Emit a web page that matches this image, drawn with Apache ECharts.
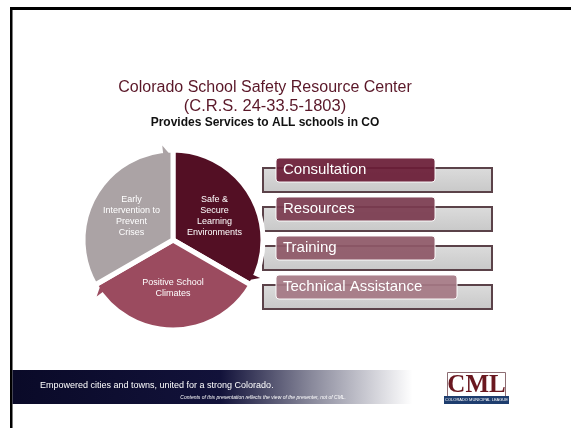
<!DOCTYPE html>
<html><head><meta charset="utf-8">
<script src="https://cdn.jsdelivr.net/npm/echarts@6/dist/echarts.min.js"></script>
<style>html,body{margin:0;padding:0;background:#fff}#c{width:571px;height:428px}</style>
</head><body><div id="c"></div>
<script>
// ---- data ----
const titleLines = ['Colorado School Safety Resource Center', '(C.R.S. 24-33.5-1803)', 'Provides Services to ALL schools in CO'];
const cycleNames = ['Safe &\nSecure\nLearning\nEnvironments', 'Positive School\nClimates', 'Early\nIntervention to\nPrevent\nCrises'];
const cycleValues = [1, 1, 1];
const cycleColors = ['#530f24', '#9b4b5f', '#aba3a5'];
const serviceItems = ['Consultation', 'Resources', 'Training', 'Technical Assistance'];
const serviceColors = ['#6a1d37', '#7b3b50', '#8e5867', '#a57884'];
const footerLines = ['Empowered cities and towns, united for a strong Colorado.', 'Contents of this presentation reflects the view of the presenter, not of CML.'];
const logoText = ['CML', 'COLORADO MUNICIPAL LEAGUE'];

// ---- layout ----
const chart = echarts.init(document.getElementById('c'), null, {renderer: 'canvas'});
const FONT = '"Liberation Sans", Arial, sans-serif';
const cx = 173, cy = 240, R = 90;

const graphics = [];
// slide border
graphics.push({type: 'rect', shape: {x: 10, y: 7, width: 561, height: 3}, style: {fill: '#000'}});
graphics.push({type: 'rect', shape: {x: 10, y: 7, width: 2.5, height: 421}, style: {fill: '#000'}});

// titles
graphics.push({type: 'text', x: 265, y: 88, style: {text: titleLines[0], font: '16px ' + FONT, fill: '#5a1728', align: 'center', verticalAlign: 'middle'}});
graphics.push({type: 'text', x: 265, y: 106, style: {text: titleLines[1], font: '16.5px ' + FONT, fill: '#5a1728', align: 'center', verticalAlign: 'middle'}});
graphics.push({type: 'text', x: 265, y: 123, style: {text: titleLines[2], font: 'bold 12px ' + FONT, fill: '#111', align: 'center', verticalAlign: 'middle'}});

// arrowheads at the clockwise end of each cycle segment
cycleValues.forEach((v, i) => {
  const total = cycleValues.reduce((a, b) => a + b, 0);
  const endDeg = 90 - 360 * cycleValues.slice(0, i + 1).reduce((a, b) => a + b, 0) / total; // math angle
  const pt = (deg, r) => [cx + r * Math.cos(deg * Math.PI / 180), cy - r * Math.sin(deg * Math.PI / 180)];
  graphics.push({type: 'polygon', z: 10, shape: {points: [pt(endDeg + 6.5, R + 5), pt(endDeg + 2.8, R - 3), pt(endDeg + 6.5, R - 11)]}, style: {fill: cycleColors[i]}});
});

// services list
serviceItems.forEach((name, i) => {
  const top = 158 + i * 39;
  const w = i === 3 ? 181 : 159;
  graphics.push({type: 'rect', shape: {x: 263, y: top + 10, width: 229, height: 24}, style: {fill: {type: 'linear', x: 0, y: 0, x2: 0, y2: 1, colorStops: [{offset: 0, color: '#dcdcdc'}, {offset: 1, color: '#c8c8c8'}]}, stroke: '#5b4249', lineWidth: 2}});
  graphics.push({type: 'rect', shape: {x: 276, y: top, width: w, height: 24, r: 3}, style: {fill: serviceColors[i], stroke: '#fff', lineWidth: 1, opacity: 0.93}});
  graphics.push({type: 'text', x: 283, y: top + 12, style: {text: name, font: '15px ' + FONT, fill: '#fff', verticalAlign: 'middle'}});
});

// footer band
graphics.push({type: 'rect', shape: {x: 12.5, y: 370, width: 400, height: 34}, style: {fill: {type: 'linear', x: 0, y: 0, x2: 1, y2: 0, colorStops: [{offset: 0, color: '#0a0a28'}, {offset: 0.52, color: '#12123a'}, {offset: 0.75, color: '#8a8a9c'}, {offset: 1, color: '#ffffff'}]}}});
graphics.push({type: 'text', x: 40, y: 386, style: {text: footerLines[0], font: '9px ' + FONT, fill: '#fff', verticalAlign: 'middle'}});
graphics.push({type: 'text', x: 346, y: 398, style: {text: footerLines[1], font: 'italic 5px ' + FONT, fill: '#fff', align: 'right', verticalAlign: 'middle'}});

// logo
graphics.push({type: 'rect', shape: {x: 447.5, y: 372.5, width: 58, height: 31}, style: {fill: '#fff', stroke: '#8d6d73', lineWidth: 1}});
graphics.push({type: 'text', x: 476.5, y: 386, style: {text: logoText[0], font: 'bold 25px "Liberation Serif", "Times New Roman", serif', fill: '#6a1820', align: 'center', verticalAlign: 'middle'}});
graphics.push({type: 'rect', shape: {x: 444, y: 396, width: 65, height: 8}, style: {fill: '#1e3d6e'}});
graphics.push({type: 'text', x: 476.5, y: 400.3, style: {text: logoText[1], font: '4px ' + FONT, fill: '#fff', align: 'center', verticalAlign: 'middle'}});

chart.setOption({
  animation: false,
  backgroundColor: '#fff',
  series: [{
    type: 'pie',
    center: [cx, cy],
    radius: [0, R],
    startAngle: 90,
    clockwise: true,
    silent: true,
    data: cycleValues.map((v, i) => ({value: v, name: cycleNames[i], itemStyle: {color: cycleColors[i]}})),
    itemStyle: {borderColor: '#fff', borderWidth: 5},
    label: {position: 'inside', color: '#fff', fontSize: 9, fontFamily: FONT, lineHeight: 11, formatter: '{b}'},
    labelLine: {show: false}
  }],
  graphic: graphics
});
</script></body></html>
